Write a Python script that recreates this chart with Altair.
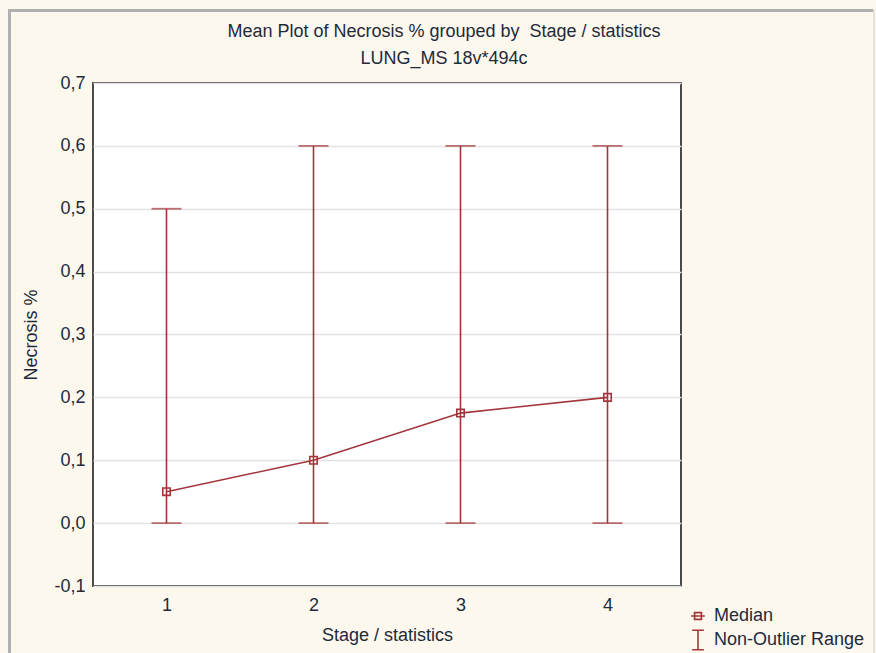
import altair as alt
import pandas as pd

stages = [1, 2, 3, 4]
medians = [0.05, 0.10, 0.175, 0.20]
range_low = [0.0, 0.0, 0.0, 0.0]
range_high = [0.5, 0.6, 0.6, 0.6]
legend_labels = ["Median", "Non-Outlier Range"]
y_ticks = [-0.1, 0.0, 0.1, 0.2, 0.3, 0.4, 0.5, 0.6, 0.7]

RED = "#A3353B"
FONT = "Liberation Sans"
TXT = "#1e2a3a"
FS = 18

df = pd.DataFrame({"stage": stages, "median": medians, "lo": range_low, "hi": range_high})
leg = pd.DataFrame({"series": legend_labels, "stage": [stages[0]] * 2, "median": [medians[0]] * 2})

W, H = 588, 503
LEFT, TOP = 93, 83

xs = alt.Scale(domain=[0.5, 4.5], nice=False, zero=False)
ys = alt.Scale(domain=[-0.1, 0.7], nice=False, zero=False)

x_axis = alt.Axis(values=stages, format="d", title="Stage / statistics", grid=False,
                  ticks=False, domain=False, labelPadding=10, titlePadding=12)
y_axis = alt.Axis(values=y_ticks, title="Necrosis %", grid=True, ticks=False, domain=False,
                  labelPadding=8, titlePadding=13,
                  labelExpr="replace(replace(format(datum.value, '.1f'), '.', ','), '\u2212', '-')")

# decorative outer frame of the chart window (top/left gray, right faint)
one = pd.DataFrame({"f": [0]})
frame_top = alt.Chart(one).mark_rule(stroke="#B0B0B0", strokeWidth=3).encode(
    x=alt.value(8 - LEFT), x2=alt.value(875 - LEFT), y=alt.value(10.5 - TOP))
frame_left = alt.Chart(one).mark_rule(stroke="#B0B0B0", strokeWidth=3).encode(
    x=alt.value(9.5 - LEFT), y=alt.value(9 - TOP), y2=alt.value(653 - TOP))
frame_right = alt.Chart(one).mark_rule(stroke="#E6E2DA", strokeWidth=2).encode(
    x=alt.value(874 - LEFT), y=alt.value(9 - TOP), y2=alt.value(653 - TOP))

base = alt.Chart(df)

rules = base.mark_rule(color=RED, strokeWidth=1.6).encode(
    x=alt.X("stage:Q", scale=xs, axis=x_axis),
    y=alt.Y("lo:Q", scale=ys, axis=y_axis),
    y2="hi:Q",
)
cap_lo = base.mark_tick(color=RED, orient="horizontal", size=30, thickness=1.8).encode(
    x=alt.X("stage:Q", scale=xs), y=alt.Y("lo:Q", scale=ys))
cap_hi = base.mark_tick(color=RED, orient="horizontal", size=30, thickness=1.8).encode(
    x=alt.X("stage:Q", scale=xs), y=alt.Y("hi:Q", scale=ys))
line = base.mark_line(color=RED, strokeWidth=1.6).encode(
    x=alt.X("stage:Q", scale=xs), y=alt.Y("median:Q", scale=ys))
pts = base.mark_point(shape="square", filled=False, color=RED, size=55, strokeWidth=1.6, opacity=1).encode(
    x=alt.X("stage:Q", scale=xs), y=alt.Y("median:Q", scale=ys))

median_sym = "M-0.7,0H0.7M-0.35,-0.35H0.35V0.35H-0.35Z"
range_sym = "M-0.6,-1H0.6M0,-1V1M-0.6,1H0.6"

legend_layer = alt.Chart(leg).mark_point(color=RED, filled=False, opacity=0, strokeWidth=1.6).encode(
    x=alt.X("stage:Q", scale=xs),
    y=alt.Y("median:Q", scale=ys),
    shape=alt.Shape("series:N",
                    scale=alt.Scale(domain=legend_labels, range=[median_sym, range_sym]),
                    legend=alt.Legend(title=None, orient="none", legendX=594, legendY=522, padding=0,
                                      symbolOpacity=1, symbolStrokeColor=RED, symbolFillColor="transparent",
                                      symbolStrokeWidth=1.6, symbolSize=380, labelFont=FONT,
                                      labelFontSize=FS, labelColor=TXT, rowPadding=2, labelOffset=5)),
)

chart = alt.layer(frame_top, frame_left, frame_right, rules, cap_lo, cap_hi, line, pts, legend_layer).properties(
    width=W, height=H,
    title=alt.TitleParams(text="Mean Plot of Necrosis % grouped by\u00a0 Stage / statistics",
                          subtitle="LUNG_MS 18v*494c", anchor="middle", frame="group", dx=57,
                          font=FONT, fontSize=FS, fontWeight="normal", color=TXT,
                          subtitleFont=FONT, subtitleFontSize=FS, subtitleColor=TXT,
                          subtitlePadding=9, offset=-60),
    autosize=alt.AutoSizeParams(type="none"),
    padding={"left": LEFT, "top": TOP, "right": 876 - LEFT - W, "bottom": 653 - TOP - H},
).configure(background="#FDF8EE").configure_view(
    fill="white", stroke="#4a4a4a", strokeWidth=2
).configure_axis(
    labelFont=FONT, labelFontSize=FS, labelColor=TXT, titleFont=FONT, titleFontSize=FS,
    titleColor=TXT, titleFontWeight="normal", gridColor="#E2E2E2", gridWidth=1.5
)

chart.save("out.html", embed_options={"renderer": "svg", "actions": False})
